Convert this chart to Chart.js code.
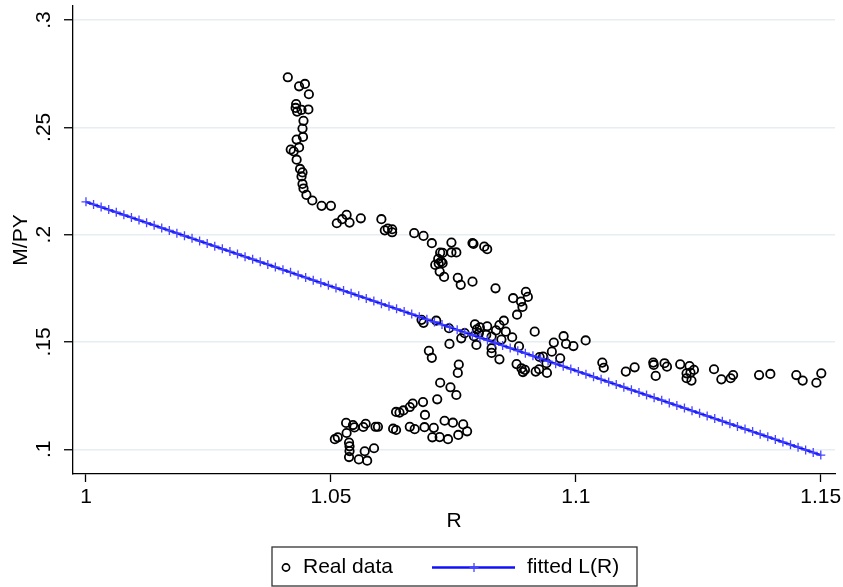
<!DOCTYPE html>
<html>
<head>
<meta charset="utf-8">
<script src="https://cdn.jsdelivr.net/npm/chart.js@4.4.1/dist/chart.umd.min.js"></script>
<style>
  html, body { margin: 0; padding: 0; background: #fff; }
  #wrap { position: relative; width: 843px; height: 587px; }
</style>
</head>
<body>
<div id="wrap"><canvas id="chart" width="843" height="587"></canvas></div>
<script>
// Real data: interest factor R and money demand M/PY
const realR = [
  1.0412, 1.0435, 1.0447, 1.0455, 1.0429, 1.0428, 1.0431, 1.0440, 1.0454, 1.0444,
  1.0442, 1.0443, 1.0430, 1.0435, 1.0418, 1.0424, 1.0430, 1.0437, 1.0442, 1.0440,
  1.0442, 1.0444, 1.0450, 1.0462, 1.0481, 1.0500, 1.0512, 1.0523, 1.0532, 1.0538,
  1.0561, 1.0603, 1.0610, 1.0616, 1.0625, 1.0625, 1.0670, 1.0689, 1.0706, 1.0746,
  1.0789, 1.0791, 1.0813, 1.0819, 1.0723, 1.0728, 1.0746, 1.0756, 1.0719, 1.0725,
  1.0713, 1.0720, 1.0728, 1.0722, 1.0731, 1.0759, 1.0765, 1.0789, 1.0836, 1.0872,
  1.0898, 1.0902, 1.0888, 1.0891, 1.0880, 1.0916, 1.0685, 1.0689, 1.0715, 1.0741,
  1.0794, 1.0804, 1.0819, 1.0798, 1.0802, 1.0792, 1.0766, 1.0773, 1.0797, 1.0742,
  1.0700, 1.0706, 1.0817, 1.0828, 1.0837, 1.0844, 1.0853, 1.0857, 1.0848, 1.0870,
  1.0828, 1.0828, 1.0844, 1.0884, 1.0879, 1.0889, 1.0896, 1.0892, 1.0918, 1.0926,
  1.0940, 1.0941, 1.0951, 1.0955, 1.0968, 1.0975, 1.0980, 1.0995, 1.1020, 1.0925,
  1.0933, 1.0761, 1.0759, 1.0723, 1.0744, 1.0756, 1.0717, 1.0688, 1.0667, 1.0661,
  1.0648, 1.0640, 1.0633, 1.0692, 1.0732, 1.0749, 1.0770, 1.0778, 1.0760, 1.0739,
  1.0722, 1.0707, 1.0710, 1.0691, 1.0671, 1.0661, 1.0633, 1.0627, 1.0596, 1.0591,
  1.0571, 1.0566, 1.0548, 1.0545, 1.0531, 1.0532, 1.0514, 1.0508, 1.0537, 1.0538,
  1.0538, 1.0537, 1.0557, 1.0574, 1.0569, 1.0588, 1.1054, 1.1057, 1.1102, 1.1120,
  1.1158, 1.1159, 1.1163, 1.1181, 1.1186, 1.1213, 1.1232, 1.1226, 1.1234, 1.1241,
  1.1226, 1.1236, 1.1282, 1.1297, 1.1316, 1.1321, 1.1374, 1.1397, 1.1450, 1.1463,
  1.1491, 1.1501
];
const realMPY = [
  0.2733, 0.2691, 0.2702, 0.2654, 0.2608, 0.2590, 0.2573, 0.2581, 0.2583, 0.2530,
  0.2494, 0.2455, 0.2443, 0.2406, 0.2396, 0.2388, 0.2349, 0.2306, 0.2290, 0.2271,
  0.2236, 0.2215, 0.2185, 0.2159, 0.2134, 0.2134, 0.2053, 0.2072, 0.2092, 0.2056,
  0.2076, 0.2072, 0.2020, 0.2028, 0.2025, 0.2011, 0.2007, 0.1994, 0.1960, 0.1963,
  0.1961, 0.1957, 0.1944, 0.1932, 0.1916, 0.1915, 0.1917, 0.1917, 0.1887, 0.1874,
  0.1859, 0.1865, 0.1867, 0.1828, 0.1803, 0.1799, 0.1766, 0.1781, 0.1750, 0.1704,
  0.1734, 0.1710, 0.1688, 0.1663, 0.1627, 0.1548, 0.1603, 0.1589, 0.1599, 0.1564,
  0.1582, 0.1568, 0.1573, 0.1559, 0.1541, 0.1527, 0.1517, 0.1541, 0.1486, 0.1491,
  0.1459, 0.1426, 0.1533, 0.1525, 0.1554, 0.1579, 0.1599, 0.1548, 0.1511, 0.1522,
  0.1471, 0.1449, 0.1419, 0.1480, 0.1397, 0.1377, 0.1370, 0.1360, 0.1362, 0.1430,
  0.1401, 0.1356, 0.1455, 0.1497, 0.1424, 0.1527, 0.1491, 0.1481, 0.1507, 0.1373,
  0.1432, 0.1395, 0.1356, 0.1310, 0.1289, 0.1253, 0.1233, 0.1220, 0.1213, 0.1197,
  0.1181, 0.1171, 0.1174, 0.1160, 0.1133, 0.1124, 0.1116, 0.1084, 0.1067, 0.1047,
  0.1057, 0.1056, 0.1100, 0.1103, 0.1094, 0.1105, 0.1090, 0.1096, 0.1105, 0.1105,
  0.1119, 0.1104, 0.1102, 0.1113, 0.1123, 0.1076, 0.1056, 0.1047, 0.1031, 0.1014,
  0.0992, 0.0964, 0.0953, 0.0947, 0.0991, 0.1005, 0.1404, 0.1380, 0.1362, 0.1382,
  0.1404, 0.1393, 0.1342, 0.1401, 0.1385, 0.1396, 0.1388, 0.1354, 0.1357, 0.1370,
  0.1331, 0.1320, 0.1373, 0.1326, 0.1331, 0.1346, 0.1346, 0.1351, 0.1346, 0.1320,
  0.1310, 0.1354
];

// fitted L(R): end points of the fitted line
const fitR = [1.0, 1.15];
const fitMPY = [0.2153, 0.0973];
const fitMarkerCount = 98;

const xTicks = [1, 1.05, 1.1, 1.15];
const xTickLabels = ['1', '1.05', '1.1', '1.15'];
const yTicks = [0.1, 0.15, 0.2, 0.25, 0.3];
const yTickLabels = ['.1', '.15', '.2', '.25', '.3'];

const FONT = "'Liberation Sans', Arial, Helvetica, sans-serif";
const FONT_SIZE = 21;
const LINE_BLUE = '#1010ff';
const CROSS_BLUE = '#4646ff';

// + markers along the fitted line
const fitMarkers = {
  id: 'fitMarkers',
  afterDatasetsDraw(chart) {
    const xs = chart.scales.x, ys = chart.scales.y;
    const ctx = chart.ctx;
    ctx.save();
    ctx.strokeStyle = CROSS_BLUE;
    ctx.lineWidth = 1.3;
    const n = fitMarkerCount - 1;
    for (let i = 0; i <= n; i++) {
      const t = i / n;
      const px = xs.getPixelForValue(fitR[0] + t * (fitR[1] - fitR[0]));
      const py = ys.getPixelForValue(fitMPY[0] + t * (fitMPY[1] - fitMPY[0]));
      ctx.beginPath();
      ctx.moveTo(px - 4.5, py); ctx.lineTo(px + 4.5, py);
      ctx.moveTo(px, py - 4.5); ctx.lineTo(px, py + 4.5);
      ctx.stroke();
    }
    ctx.restore();
  }
};

// boxed legend under the x axis
const boxLegend = {
  id: 'boxLegend',
  afterDraw(chart) {
    const ctx = chart.ctx;
    const ds = chart.data.datasets;
    ctx.save();
    ctx.strokeStyle = '#333';
    ctx.lineWidth = 1.3;
    ctx.strokeRect(272, 547, 365, 39);
    const cy = 567.5;
    // circle item
    ctx.beginPath();
    ctx.arc(286, cy, 3.6, 0, Math.PI * 2);
    ctx.strokeStyle = '#000';
    ctx.lineWidth = 1.6;
    ctx.stroke();
    ctx.fillStyle = '#000';
    ctx.font = FONT_SIZE + 'px ' + FONT;
    ctx.textBaseline = 'middle';
    ctx.textAlign = 'left';
    ctx.fillText(ds[0].label, 303, cy);
    // line item
    ctx.beginPath();
    ctx.moveTo(432, cy); ctx.lineTo(515, cy);
    ctx.strokeStyle = LINE_BLUE;
    ctx.lineWidth = 2.4;
    ctx.stroke();
    ctx.beginPath();
    ctx.moveTo(469.5, cy); ctx.lineTo(478.5, cy);
    ctx.moveTo(474, cy - 4.5); ctx.lineTo(474, cy + 4.5);
    ctx.strokeStyle = CROSS_BLUE;
    ctx.lineWidth = 1.3;
    ctx.stroke();
    ctx.fillText(ds[1].label, 527, cy);
    ctx.restore();
  }
};

new Chart(document.getElementById('chart'), {
  type: 'scatter',
  data: {
    datasets: [
      {
        label: 'Real data',
        data: realR.map((r, i) => ({ x: r, y: realMPY[i] })),
        pointStyle: 'circle',
        pointRadius: 4.2,
        pointBorderWidth: 1.8,
        borderColor: '#000',
        backgroundColor: 'rgba(0,0,0,0)',
        showLine: false,
        order: 1
      },
      {
        label: 'fitted L(R)',
        data: fitR.map((r, i) => ({ x: r, y: fitMPY[i] })),
        showLine: true,
        borderColor: LINE_BLUE,
        borderWidth: 2.4,
        pointRadius: 0,
        order: 0
      }
    ]
  },
  options: {
    responsive: false,
    animation: false,
    layout: { padding: { left: 0, right: 8, top: 6, bottom: 0 } },
    plugins: { legend: { display: false }, tooltip: { enabled: false } },
    scales: {
      x: {
        type: 'linear',
        min: 0.99735,
        max: 1.1529,
        afterBuildTicks: s => { s.ticks = xTicks.map(v => ({ value: v })); },
        afterFit: s => { s.height = 113; s.paddingLeft = 0; s.paddingRight = 0; },
        ticks: {
          callback: (v, i) => xTickLabels[i],
          color: '#000',
          font: { family: FONT, size: FONT_SIZE },
          padding: 3,
          maxRotation: 0,
          autoSkip: false
        },
        grid: {
          drawOnChartArea: false,
          drawTicks: true,
          tickLength: 8,
          tickColor: '#000',
          tickWidth: 1.3
        },
        border: { color: '#000', width: 1.3 },
        title: {
          display: true,
          text: 'R',
          color: '#000',
          font: { family: FONT, size: FONT_SIZE },
          padding: { top: 0, bottom: 53 }
        }
      },
      y: {
        type: 'linear',
        min: 0.0885,
        max: 0.3065,
        afterBuildTicks: s => { s.ticks = yTicks.map(v => ({ value: v })); },
        afterFit: s => { s.width = 73; s.paddingTop = 0; s.paddingBottom = 0; },
        ticks: {
          callback: (v, i) => yTickLabels[i],
          color: '#000',
          font: { family: FONT, size: FONT_SIZE },
          minRotation: 90,
          maxRotation: 90,
          crossAlign: 'center',
          padding: 5,
          autoSkip: false
        },
        grid: {
          color: '#e6eef1',
          lineWidth: 1.5,
          drawTicks: true,
          tickLength: 9,
          tickColor: '#000',
          tickWidth: 1.3
        },
        border: { color: '#000', width: 1.3 },
        title: {
          display: true,
          text: 'M/PY',
          color: '#000',
          font: { family: FONT, size: FONT_SIZE },
          padding: { top: 9, bottom: 0 }
        }
      }
    }
  },
  plugins: [fitMarkers, boxLegend]
});
</script>
</body>
</html>
